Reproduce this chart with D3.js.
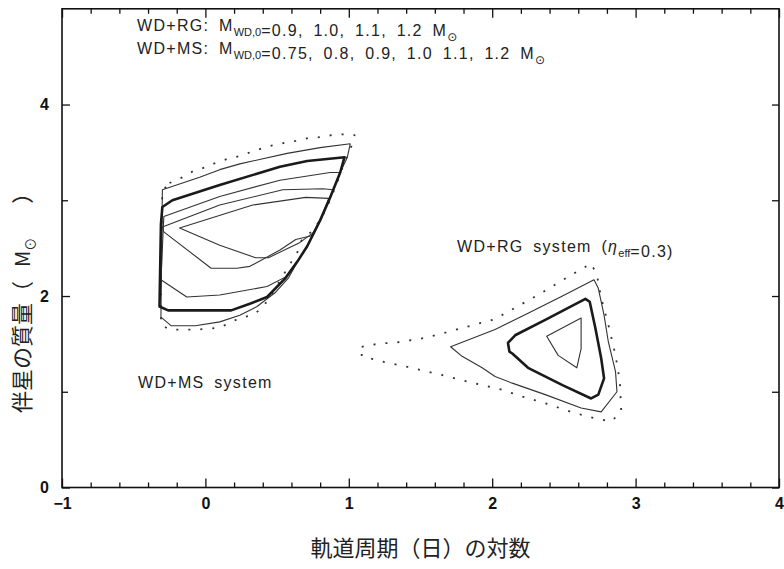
<!DOCTYPE html>
<html>
<head>
<meta charset="utf-8">
<script src="https://cdn.jsdelivr.net/npm/d3@7"></script>
<style>
  body { margin: 0; background: #fff; }
  svg { display: block; }
  .tick text { font-family: "Liberation Sans", Arial, sans-serif; font-weight: bold; font-size: 16px; fill: #111; }
  .tick line { stroke: #111; stroke-width: 1.3; }
  .lbl { font-family: "Liberation Sans", "DejaVu Sans", sans-serif; font-size: 16px; fill: #222; letter-spacing: 1.3px; word-spacing: 4px; }
  .cjk { font-family: "Noto Sans CJK JP", sans-serif; font-size: 22px; fill: #222; }
</style>
</head>
<body>
<svg id="chart" width="784" height="569"></svg>
<script>
// axis ticks
const xMajor = [-1, 0, 1, 2, 3, 4];
const xMinor = d3.range(-1, 4.001, 0.2).filter(v => Math.abs(v - Math.round(v)) > 0.01);
const yLabeled = [0, 2, 4];
const yOther = [1, 3];

// WD+MS contours, [log P (d), M2 (Msun)], one per initial WD mass
const ms120 = [[-0.25,3.18],[-0.16,3.24],[-0.09,3.30],[-0.01,3.34],[0.07,3.39],[0.15,3.43],[0.23,3.46],[0.31,3.50],[0.39,3.54],[0.46,3.57],[0.55,3.60],[0.63,3.62],[0.72,3.65],[0.80,3.66],[0.88,3.68],[0.97,3.69],[1.04,3.68],[1.02,3.57],[0.97,3.40],[0.91,3.15],[0.84,2.90],[0.76,2.70],[0.67,2.58],[0.65,2.48],[0.47,2.04],[0.40,1.88],[0.33,1.80],[0.24,1.77],[0.10,1.67],[-0.05,1.65],[-0.25,1.65],[-0.31,1.70],[-0.31,1.82],[-0.31,2.50],[-0.30,3.10]];
const ms110 = [[-0.30,3.11],[-0.04,3.24],[0.10,3.32],[0.24,3.38],[0.57,3.49],[0.80,3.55],[1.01,3.59],[0.99,3.45],[0.94,3.29],[0.87,3.03],[0.80,2.79],[0.71,2.52],[0.65,2.38],[0.58,2.19],[0.49,2.04],[0.36,1.89],[0.24,1.80],[0.10,1.73],[-0.07,1.69],[-0.24,1.69],[-0.31,1.78]];
const ms100 = [[-0.30,2.93],[-0.23,3.00],[0.10,3.16],[0.52,3.35],[0.71,3.41],[0.97,3.45],[0.94,3.29],[0.87,3.03],[0.80,2.79],[0.71,2.52],[0.65,2.38],[0.56,2.19],[0.43,1.99],[0.31,1.92],[0.18,1.85],[-0.26,1.85],[-0.32,1.89],[-0.31,2.75]];
const ms090 = [[-0.29,2.83],[0.10,3.04],[0.52,3.21],[0.87,3.29],[0.94,3.29],[0.87,3.03],[0.80,2.79],[0.71,2.52],[0.65,2.38],[0.56,2.20],[0.43,2.10],[0.10,2.01],[-0.13,1.99],[-0.31,2.17]];
const ms080 = [[-0.30,2.72],[0.10,2.95],[0.54,3.11],[0.82,3.12],[0.89,3.11],[0.87,3.03],[0.80,2.79],[0.74,2.63],[0.63,2.59],[0.52,2.48],[0.31,2.31],[0.22,2.29],[0.04,2.29],[-0.29,2.67]];
const ms075 = [[-0.18,2.71],[0.33,2.95],[0.70,3.03],[0.86,3.02],[0.80,2.79],[0.76,2.67],[0.66,2.56],[0.44,2.40],[0.35,2.40],[0.10,2.53]];

// WD+RG contours
const rg120 = [[1.09,1.47],[1.20,1.50],[1.36,1.52],[1.52,1.56],[1.68,1.62],[1.85,1.69],[2.00,1.75],[2.08,1.81],[2.33,2.02],[2.54,2.21],[2.69,2.34],[2.73,2.22],[2.76,1.98],[2.81,1.70],[2.86,1.38],[2.89,1.11],[2.90,0.79],[2.83,0.69],[2.72,0.72],[2.55,0.79],[2.37,0.88],[2.21,0.95],[2.07,1.02],[1.90,1.08],[1.74,1.14],[1.58,1.20],[1.41,1.26],[1.25,1.31],[1.09,1.37]];
const rg110 = [[1.71,1.47],[2.02,1.65],[2.25,1.82],[2.49,2.00],[2.71,2.17],[2.74,2.08],[2.78,1.80],[2.81,1.52],[2.86,1.21],[2.87,1.00],[2.76,0.79],[2.62,0.83],[2.37,0.97],[2.14,1.09],[2.02,1.16],[1.93,1.25],[1.79,1.37]];
const rg100 = [[2.66,1.96],[2.68,1.94],[2.72,1.66],[2.76,1.35],[2.78,1.14],[2.74,0.97],[2.69,0.93],[2.49,1.07],[2.25,1.25],[2.14,1.40],[2.12,1.42],[2.11,1.51],[2.16,1.59],[2.37,1.75],[2.65,1.97]];
const rg090 = [[2.62,1.77],[2.62,1.45],[2.59,1.25],[2.46,1.38],[2.38,1.58]];

const svg = d3.select('#chart');

const x = d3.scaleLinear().domain([-1, 4]).range([62, 779]);
const y = d3.scaleLinear().domain([0, 5]).range([487.5, 8.8]);

const styles = {
  dotted: { stroke: '#333', width: 1.8, dash: '2,10' },
  thin: { stroke: '#333', width: 1.1, dash: null },
  thick: { stroke: '#1a1a1a', width: 2.6, dash: null }
};

const series = [
  { pts: ms120, kind: 'dotted' }, { pts: ms110, kind: 'thin' },
  { pts: ms090, kind: 'thin' }, { pts: ms080, kind: 'thin' },
  { pts: ms075, kind: 'thin' }, { pts: ms100, kind: 'thick' },
  { pts: rg120, kind: 'dotted' }, { pts: rg110, kind: 'thin' },
  { pts: rg090, kind: 'thin' }, { pts: rg100, kind: 'thick' }
];

const line = d3.line()
  .x(d => x(d[0]))
  .y(d => y(d[1]))
  .curve(d3.curveLinearClosed);

svg.append('g')
  .selectAll('path')
  .data(series)
  .join('path')
  .attr('d', d => line(d.pts))
  .attr('fill', 'none')
  .attr('stroke', d => styles[d.kind].stroke)
  .attr('stroke-width', d => styles[d.kind].width)
  .attr('stroke-dasharray', d => styles[d.kind].dash)
  .attr('stroke-linejoin', 'round');

// axes, ticks pointing inward on all four sides
const yB = y(0), yT = y(5), xL = x(-1), xR = x(4);

function addAxis(axis, tx, ty) {
  const g = svg.append('g').attr('transform', `translate(${tx},${ty})`).call(axis);
  g.select('.domain').remove();
  return g;
}

addAxis(d3.axisBottom(x).tickValues(xMajor).tickSize(-9).tickPadding(10).tickFormat(d3.format('d')), 0, yB);
addAxis(d3.axisBottom(x).tickValues(xMinor).tickSize(-5).tickFormat(''), 0, yB);
addAxis(d3.axisTop(x).tickValues(xMajor).tickSize(-9).tickFormat(''), 0, yT);
addAxis(d3.axisTop(x).tickValues(xMinor).tickSize(-5).tickFormat(''), 0, yT);
addAxis(d3.axisLeft(y).tickValues(yLabeled).tickSize(-8).tickPadding(13).tickFormat(d3.format('d')), xL, 0);
addAxis(d3.axisLeft(y).tickValues(yOther).tickSize(-6).tickFormat(''), xL, 0);
addAxis(d3.axisRight(y).tickValues(yLabeled.concat(yOther)).tickSize(-7).tickFormat(''), xR, 0);

svg.append('rect')
  .attr('x', xL).attr('y', yT)
  .attr('width', xR - xL).attr('height', yB - yT)
  .attr('fill', 'none').attr('stroke', '#111').attr('stroke-width', 1.6);

// annotations
function sub(t, s, size) {
  t.append('tspan').attr('dy', 5).attr('font-size', size || 11).attr('letter-spacing', 0).text(s);
  t.append('tspan').attr('dy', -5).text('');
}

const t1 = svg.append('text').attr('class', 'lbl').attr('x', 137).attr('y', 31);
t1.append('tspan').text('WD+RG: M');
sub(t1, 'WD,0');
t1.append('tspan').text('=0.9, 1.0, 1.1, 1.2 M');
sub(t1, '⊙', 12);

const t2 = svg.append('text').attr('class', 'lbl').attr('x', 137).attr('y', 54);
t2.append('tspan').text('WD+MS: M');
sub(t2, 'WD,0');
t2.append('tspan').text('=0.75, 0.8, 0.9, 1.0 1.1, 1.2 M');
sub(t2, '⊙', 12);

const t3 = svg.append('text').attr('class', 'lbl').attr('x', 457).attr('y', 252);
t3.append('tspan').text('WD+RG system (');
t3.append('tspan').attr('font-style', 'italic').text('η');
sub(t3, 'eff');
t3.append('tspan').text('=0.3)');

svg.append('text').attr('class', 'lbl').attr('x', 138).attr('y', 388).text('WD+MS system');

// axis titles
svg.append('text').attr('class', 'cjk')
  .attr('x', (xL + xR) / 2).attr('y', 556)
  .attr('text-anchor', 'middle')
  .text('軌道周期（日）の対数');

const yt = svg.append('text').attr('class', 'cjk')
  .attr('transform', 'translate(30,413) rotate(-90)')
  .attr('font-size', 23);
yt.append('tspan').text('伴星の質量（');
yt.append('tspan').attr('dx', 14).attr('font-size', 20).text('M');
yt.append('tspan').attr('dy', 5).attr('font-size', 13).text('⊙');
yt.append('tspan').attr('dy', -5).attr('dx', 34).text('）');
</script>
</body>
</html>
